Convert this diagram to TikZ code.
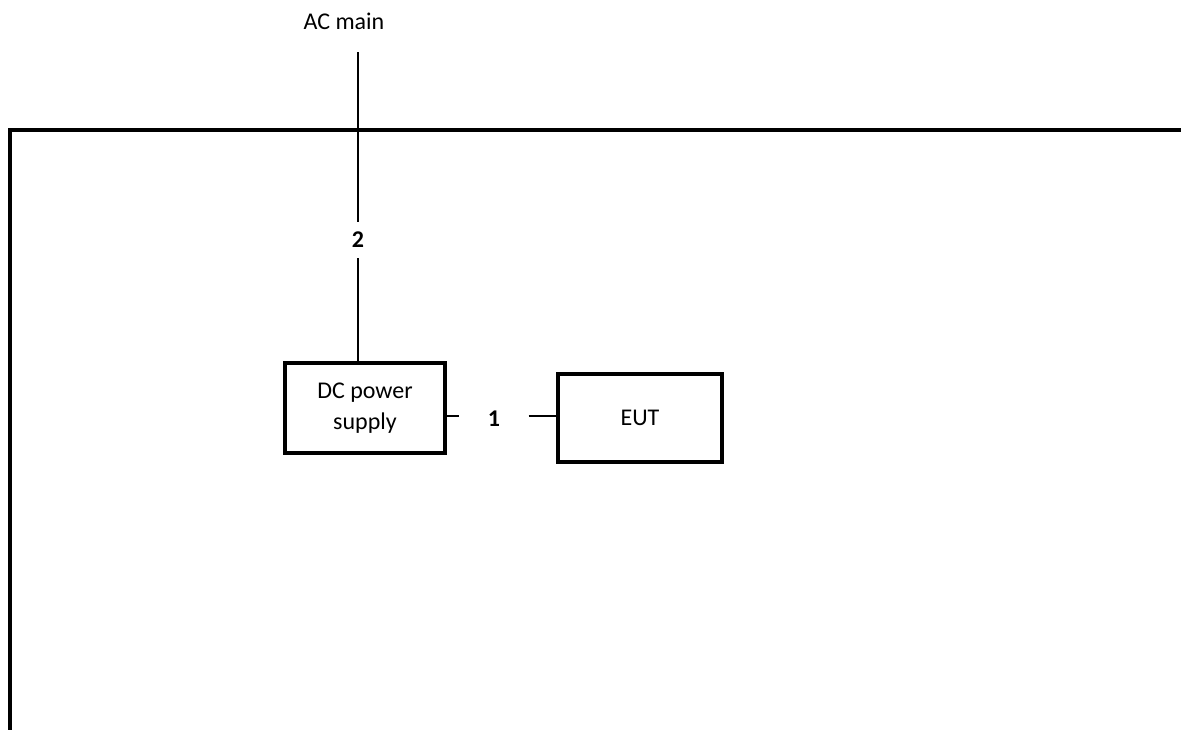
\documentclass[tikz,border=0pt]{standalone}
\usepackage{fontspec}
\setmainfont{Carlito}
\begin{document}
\begin{tikzpicture}[x=1pt, y=-1pt,
  txt/.style={font=\fontsize{24}{29}\selectfont, inner sep=0pt},
  unit/.style={draw, line width=3.5pt, align=center, inner sep=0pt,
    font=\fontsize{24}{31}\selectfont},
  wire/.style={line width=2.5pt},
  frame/.style={line width=4pt},
  num/.style={font=\fontsize{24}{29}\selectfont\bfseries, inner sep=0pt}]
  \useasboundingbox (0,0) rectangle (1181,729);
  \clip (0,0) rectangle (1181,729);

  % enclosure outline
  \coordinate (fr) at (1190,130);
  \coordinate (fc) at (10,130);
  \coordinate (fb) at (10,740);
  \draw[frame] (fr) -- (fc) -- (fb);

  % equipment
  \node[unit, minimum width=160pt, minimum height=90pt] (dc) at (365,408)
    {DC power\\supply};
  \node[unit, minimum width=164pt, minimum height=88pt] (eut) at (640,418) {EUT};

  % mains feed
  \node[txt] (ac) at (344,21) {AC main};
  \coordinate (actop) at (358,52);
  \node[num, minimum height=36pt] (two) at (358,240) {2};
  \draw[wire] (actop) -- (two.north);
  \draw[wire] (two.south) -- (dc.north -| two);

  % DC cable
  \node[num, minimum width=69pt] (one) at (494,419) {1};
  \draw[wire] (dc.east |- 0,416) -- (one.west |- 0,416);
  \draw[wire] (one.east |- 0,416) -- (eut.west |- 0,416);
\end{tikzpicture}
\end{document}
